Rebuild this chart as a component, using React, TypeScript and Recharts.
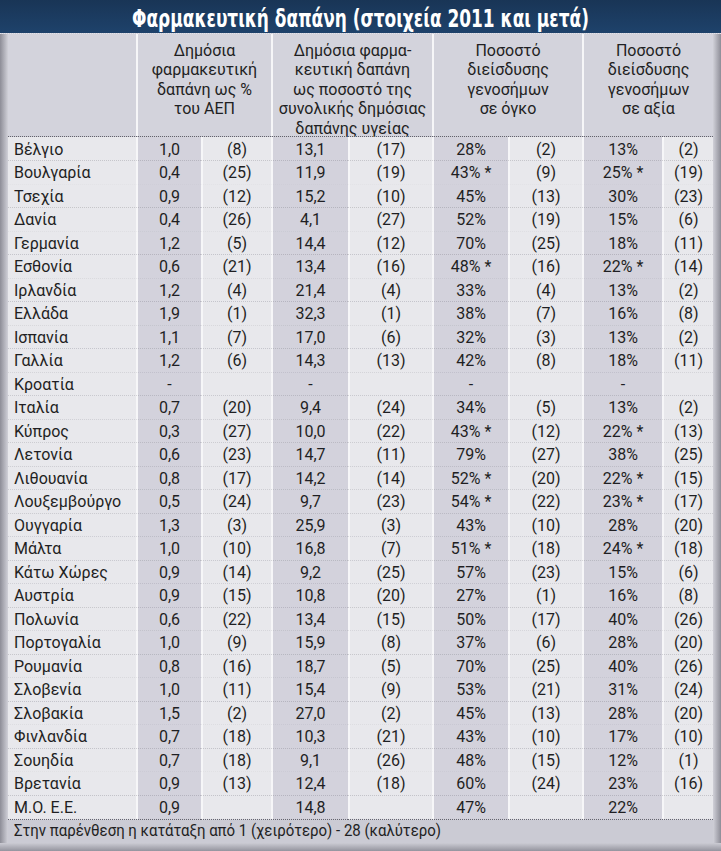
import React from "react";
import { Bar, BarChart, XAxis, YAxis } from "recharts";

const title = "Φαρμακευτική δαπάνη (στοιχεία 2011 και μετά)";
const footnote = "Στην παρένθεση η κατάταξη από 1 (χειρότερο) - 28 (καλύτερο)";

const headers = [
  ["Δημόσια", "φαρμακευτική", "δαπάνη ως %", "του ΑΕΠ"],
  ["Δημόσια φαρμα-", "κευτική δαπάνη", "ως ποσοστό της", "συνολικής δημόσιας", "δαπάνης υγείας"],
  ["Ποσοστό", "διείσδυσης", "γενοσήμων", "σε όγκο"],
  ["Ποσοστό", "διείσδυσης", "γενοσήμων", "σε αξία"],
];

const countries = [
  "Βέλγιο", "Βουλγαρία", "Τσεχία", "Δανία", "Γερμανία", "Εσθονία", "Ιρλανδία",
  "Ελλάδα", "Ισπανία", "Γαλλία", "Κροατία", "Ιταλία", "Κύπρος", "Λετονία",
  "Λιθουανία", "Λουξεμβούργο", "Ουγγαρία", "Μάλτα", "Κάτω Χώρες", "Αυστρία",
  "Πολωνία", "Πορτογαλία", "Ρουμανία", "Σλοβενία", "Σλοβακία", "Φινλανδία",
  "Σουηδία", "Βρετανία", "Μ.Ο. Ε.Ε.",
];

// % of GDP
const gdpShare = [
  1.0, 0.4, 0.9, 0.4, 1.2, 0.6, 1.2, 1.9, 1.1, 1.2, null, 0.7, 0.3, 0.6, 0.8,
  0.5, 1.3, 1.0, 0.9, 0.9, 0.6, 1.0, 0.8, 1.0, 1.5, 0.7, 0.7, 0.9, 0.9,
];
const gdpRank = [
  8, 25, 12, 26, 5, 21, 4, 1, 7, 6, null, 20, 27, 23, 17, 24, 3, 10, 14, 15,
  22, 9, 16, 11, 2, 18, 18, 13, null,
];

// % of total public health spending
const healthShare = [
  13.1, 11.9, 15.2, 4.1, 14.4, 13.4, 21.4, 32.3, 17.0, 14.3, null, 9.4, 10.0,
  14.7, 14.2, 9.7, 25.9, 16.8, 9.2, 10.8, 13.4, 15.9, 18.7, 15.4, 27.0, 10.3,
  9.1, 12.4, 14.8,
];
const healthRank = [
  17, 19, 10, 27, 12, 16, 4, 1, 6, 13, null, 24, 22, 11, 14, 23, 3, 7, 25, 20,
  15, 8, 5, 9, 2, 21, 26, 18, null,
];

// generics penetration, volume
const genericVolume = [
  28, 43, 45, 52, 70, 48, 33, 38, 32, 42, null, 34, 43, 79, 52, 54, 43, 51, 57,
  27, 50, 37, 70, 53, 45, 43, 48, 60, 47,
];
const genericVolumeRank = [
  2, 9, 13, 19, 25, 16, 4, 7, 3, 8, null, 5, 12, 27, 20, 22, 10, 18, 23, 1, 17,
  6, 25, 21, 13, 10, 15, 24, null,
];

// generics penetration, value
const genericValue = [
  13, 25, 30, 15, 18, 22, 13, 16, 13, 18, null, 13, 22, 38, 22, 23, 28, 24, 15,
  16, 40, 28, 40, 31, 28, 17, 12, 23, 22,
];
const genericValueRank = [
  2, 19, 23, 6, 11, 14, 2, 8, 2, 11, null, 2, 13, 25, 15, 17, 20, 18, 6, 8, 26,
  20, 26, 24, 20, 10, 1, 16, null,
];

// marked with * in the source
const estimated = ["Βουλγαρία", "Εσθονία", "Κύπρος", "Λιθουανία", "Λουξεμβούργο", "Μάλτα"];

const W = 721;
const H = 851;
const LEFT = 8;
const RIGHT = 713;
const HEADER_TOP = 34;
const BODY_TOP = 136;
const BODY_BOTTOM = 819;
const FOOT_BOTTOM = 843;
const FONT = "Roboto, 'Noto Sans', sans-serif";
const INK = "#1f1f23";
const SHADE = "#d3d2dc";
const LIGHT = "#e8e8ec";
const GAP = "#f6f6f8";
const DOTS = "#62626c";

type Kind = "name" | "value" | "rank";
const COLUMNS: { key: string; width: number; kind: Kind }[] = [
  { key: "country", width: 128, kind: "name" },
  { key: "gdp", width: 65, kind: "value" },
  { key: "gdpRank", width: 70, kind: "rank" },
  { key: "health", width: 77, kind: "value" },
  { key: "healthRank", width: 84, kind: "rank" },
  { key: "volume", width: 76, kind: "value" },
  { key: "volumeRank", width: 74, kind: "rank" },
  { key: "value", width: 80, kind: "value" },
  { key: "valueRank", width: 51, kind: "rank" },
];

const decimal = (v: number | null) => (v === null ? "-" : v.toFixed(1).replace(".", ","));
const rank = (v: number | null) => (v === null ? "" : `(${v})`);
const percent = (v: number | null, star: boolean) =>
  v === null ? "-" : star ? `${v}% *` : `${v}%`;

const rows = countries.map((country, i) => {
  const star = estimated.includes(country);
  return {
    country,
    gdp: decimal(gdpShare[i]),
    gdpRank: rank(gdpRank[i]),
    health: decimal(healthShare[i]),
    healthRank: rank(healthRank[i]),
    volume: percent(genericVolume[i], star),
    volumeRank: rank(genericVolumeRank[i]),
    value: percent(genericValue[i], star),
    valueRank: rank(genericValueRank[i]),
  };
});

// group boundaries for header (country | 4 groups)
const groups = [
  { x0: 138, x1: 271 },
  { x0: 273, x1: 432 },
  { x0: 434, x1: 582 },
  { x0: 584, x1: 713 },
];

function TableCell(props: any) {
  const { x, y, width, height, payload, kind, field } = props;
  const gap = kind === "name" ? 0 : 2;
  const fill = kind === "value" ? SHADE : LIGHT;
  const text = payload[field];
  const cy = y + height / 2 + 5.5;
  return (
    <g>
      {gap > 0 && <rect x={x} y={y} width={gap} height={height} fill={GAP} />}
      <rect x={x + gap} y={y} width={width - gap} height={height} fill={fill} />
      <line
        x1={x}
        x2={x + width}
        y1={y + height}
        y2={y + height}
        stroke={DOTS}
        strokeWidth={1}
        strokeDasharray="1 1"
      />
      <text
        x={kind === "name" ? x + 6 : x + gap + (width - gap) / 2}
        y={cy}
        textAnchor={kind === "name" ? "start" : "middle"}
        fontFamily={FONT}
        fontSize={16}
        fill={INK}
      >
        {text}
      </text>
    </g>
  );
}

function Frame() {
  return (
    <svg width={W} height={H} style={{ position: "absolute", left: 0, top: 0 }}>
      <defs>
        <linearGradient id="titleBar" x1="0" y1="0" x2="0" y2="1">
          <stop offset="0" stopColor="#193556" />
          <stop offset="1" stopColor="#1e426b" />
        </linearGradient>
        <linearGradient id="edgeL" x1="0" y1="0" x2="1" y2="0">
          <stop offset="0" stopColor="#8d8d97" />
          <stop offset="1" stopColor="#d0d0d8" />
        </linearGradient>
        <linearGradient id="edgeR" x1="0" y1="0" x2="1" y2="0">
          <stop offset="0" stopColor="#d0d0d8" />
          <stop offset="1" stopColor="#8d8d97" />
        </linearGradient>
        <linearGradient id="edgeB" x1="0" y1="0" x2="0" y2="1">
          <stop offset="0" stopColor="#cbcbd3" />
          <stop offset="1" stopColor="#94949e" />
        </linearGradient>
      </defs>
      <rect x={0} y={0} width={W} height={H} fill="#cdcdd5" />
      <rect x={0} y={HEADER_TOP} width={LEFT} height={H - HEADER_TOP} fill="url(#edgeL)" />
      <rect x={RIGHT} y={HEADER_TOP} width={W - RIGHT} height={H - HEADER_TOP} fill="url(#edgeR)" />
      <rect x={0} y={FOOT_BOTTOM} width={W} height={H - FOOT_BOTTOM} fill="url(#edgeB)" />
      <rect x={0} y={0} width={W} height={HEADER_TOP - 1} fill="url(#titleBar)" />
      <text
        x={W / 2}
        y={27}
        textAnchor="middle"
        fontFamily="'Liberation Sans Narrow', 'DejaVu Sans Condensed', Roboto, sans-serif"
        fontWeight="bold"
        fontSize={24}
        fill="#ffffff"
        textLength={457}
        lengthAdjust="spacingAndGlyphs"
      >
        {title}
      </text>
      <line x1={0} x2={W} y1={33.5} y2={33.5} stroke="#e4e4ec" strokeDasharray="1 1" />
      <rect x={LEFT} y={HEADER_TOP} width={RIGHT - LEFT} height={BODY_TOP - HEADER_TOP} fill="#d3d3dc" />
      {groups.map((g) => (
        <rect key={g.x0} x={g.x0 - 2} y={HEADER_TOP} width={2} height={BODY_TOP - HEADER_TOP} fill={GAP} />
      ))}
      {headers.map((lines, gi) => (
        <text
          key={gi}
          textAnchor="middle"
          fontFamily={FONT}
          fontSize={16}
          fill={INK}
        >
          {lines.map((line, li) => (
            <tspan key={li} x={(groups[gi].x0 + groups[gi].x1) / 2} y={55.5 + li * 19.5}>
              {line}
            </tspan>
          ))}
        </text>
      ))}
      <line x1={LEFT} x2={RIGHT} y1={BODY_TOP + 0.5} y2={BODY_TOP + 0.5} stroke={DOTS} strokeDasharray="1 1" />
      <rect x={LEFT} y={BODY_BOTTOM} width={RIGHT - LEFT} height={FOOT_BOTTOM - BODY_BOTTOM} fill="#cbcbd4" />
      <text
        x={LEFT + 6}
        y={836}
        fontFamily={FONT}
        fontSize={16}
        fill={INK}
        textLength={427}
        lengthAdjust="spacingAndGlyphs"
      >
        {footnote}
      </text>
    </svg>
  );
}

export default function App() {
  return (
    <div style={{ position: "relative", width: W, height: H }}>
      <style>{`body{margin:0}`}</style>
      <Frame />
      <div style={{ position: "absolute", left: 0, top: 0 }}>
        <BarChart
          width={W}
          height={H}
          data={rows}
          layout="vertical"
          barCategoryGap={0}
          barGap={0}
          margin={{ top: BODY_TOP + 1, right: W - RIGHT, bottom: H - BODY_BOTTOM, left: LEFT }}
        >
          <XAxis type="number" hide domain={[0, RIGHT - LEFT]} allowDataOverflow />
          <YAxis type="category" dataKey="country" hide />
          {COLUMNS.map((c) => (
            <Bar
              key={c.key}
              dataKey={() => c.width}
              stackId="row"
              isAnimationActive={false}
              shape={(p: any) => <TableCell {...p} kind={c.kind} field={c.key} />}
            />
          ))}
        </BarChart>
      </div>
    </div>
  );
}
